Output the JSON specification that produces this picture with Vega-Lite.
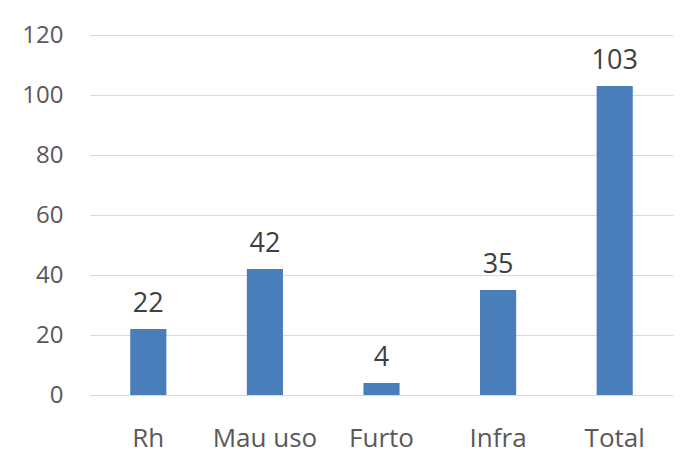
{
  "$schema": "https://vega.github.io/schema/vega-lite/v6.json",
  "autosize": "none",
  "width": 583,
  "height": 360,
  "padding": {"left": 90, "top": 35, "right": 8, "bottom": 66},
  "background": "white",
  "data": {"values": [
    {"categoria": "Rh", "valor": 22},
    {"categoria": "Mau uso", "valor": 42},
    {"categoria": "Furto", "valor": 4},
    {"categoria": "Infra", "valor": 35},
    {"categoria": "Total", "valor": 103}
  ]},
  "encoding": {
    "x": {"field": "categoria", "type": "nominal", "sort": null,
      "scale": {"paddingInner": 0.69, "paddingOuter": 0.345},
      "axis": {"title": null, "labelAngle": 0, "domain": false, "ticks": false, "labelBaseline": "alphabetic", "labelPadding": 51, "labelFontSize": 26, "labelColor": "#595959", "labelFont": "Open Sans"}},
    "y": {"field": "valor", "type": "quantitative",
      "scale": {"domain": [0, 120]},
      "axis": {"title": null, "values": [0, 20, 40, 60, 80, 100, 120], "domain": false, "ticks": false, "labelPadding": 27, "labelFontSize": 24, "labelColor": "#595959", "labelFont": "Open Sans", "gridColor": "#D9D9D9", "gridWidth": 1.2}}
  },
  "layer": [
    {"mark": {"type": "bar", "color": "#4A7EBB"}},
    {"mark": {"type": "text", "baseline": "alphabetic", "dy": -17, "fontSize": 27, "font": "Open Sans", "color": "#404040"},
     "encoding": {"text": {"field": "valor", "type": "quantitative"}}}
  ],
  "config": {"view": {"stroke": null}}
}
